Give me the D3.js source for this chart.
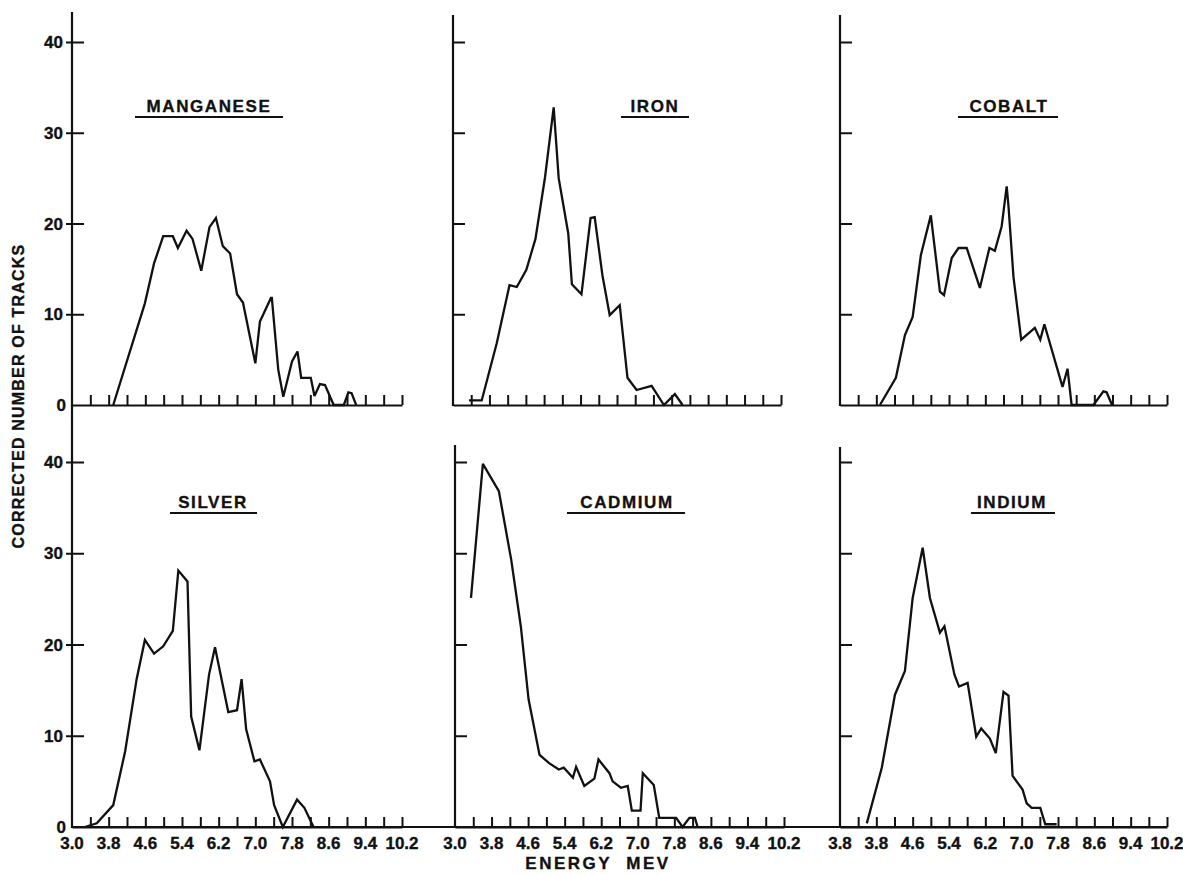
<!DOCTYPE html>
<html><head><meta charset="utf-8">
<script src="https://cdn.jsdelivr.net/npm/d3@7"></script>
<style>
html,body{margin:0;padding:0;background:#fff;}
svg{display:block;}
text{font-family:"Liberation Sans",Arial,sans-serif;font-weight:bold;fill:#111;stroke:#111;stroke-width:0.35px;}
</style></head><body>
<svg id="chart" width="1183" height="875"></svg>
<script>
// ---------- data (energy MeV, corrected number of tracks) ----------
const manganese = [[3.90,0],[4.59,11.2],[4.79,15.6],[4.99,18.6],[5.20,18.6],[5.31,17.3],[5.50,19.2],[5.63,18.3],[5.82,14.8],[6.00,19.6],[6.14,20.6],[6.29,17.5],[6.45,16.7],[6.60,12.2],[6.73,11.3],[7.00,4.6],[7.10,9.2],[7.34,11.8],[7.36,11.8],[7.50,3.9],[7.61,0.9],[7.80,4.8],[7.92,5.9],[8.00,3.0],[8.21,3.0],[8.29,1.0],[8.41,2.3],[8.52,2.2],[8.71,0],[8.93,0],[9.03,1.4],[9.10,1.3],[9.20,0]];
const iron = [[3.35,0.5],[3.63,0.5],[3.96,6.8],[4.24,13.2],[4.40,13.0],[4.61,14.9],[4.81,18.3],[5.02,25.1],[5.21,32.8],[5.32,25.0],[5.53,18.9],[5.61,13.3],[5.82,12.2],[6.02,20.6],[6.11,20.7],[6.28,14.3],[6.44,9.9],[6.66,11.0],[6.83,3.0],[7.03,1.65],[7.36,2.1],[7.63,0],[7.87,1.2],[8.04,0]];
const cobalt = [[3.88,0],[4.23,3.0],[4.43,7.7],[4.60,9.7],[4.78,16.5],[5.00,20.9],[5.20,12.5],[5.29,12.1],[5.46,16.2],[5.61,17.3],[5.79,17.3],[6.08,12.9],[6.29,17.3],[6.41,17.0],[6.56,19.7],[6.67,24.1],[6.71,21.9],[6.82,14.1],[6.99,7.2],[7.29,8.5],[7.41,7.2],[7.50,8.9],[7.90,2.0],[8.01,4.0],[8.10,0],[8.58,0],[8.80,1.5],[8.87,1.4],[8.99,0]];
const silver = [[3.28,0],[3.54,0.4],[3.90,2.4],[4.16,8.3],[4.41,16.2],[4.59,20.5],[4.79,19.0],[4.99,19.8],[5.20,21.5],[5.32,28.1],[5.52,26.9],[5.60,12.1],[5.78,8.4],[5.99,16.7],[6.12,19.7],[6.41,12.6],[6.60,12.8],[6.70,16.2],[6.80,10.7],[6.98,7.2],[7.10,7.4],[7.32,5.0],[7.41,2.4],[7.60,0],[7.91,3.0],[8.07,2.1],[8.27,0]];
const cadmium = [[3.35,25.1],[3.61,39.8],[3.96,36.8],[4.23,29.3],[4.44,22.0],[4.61,14.0],[4.85,7.9],[5.06,7.0],[5.27,6.3],[5.38,6.5],[5.58,5.4],[5.65,6.6],[5.83,4.5],[6.05,5.3],[6.14,7.4],[6.38,5.9],[6.45,5.0],[6.63,4.3],[6.78,4.5],[6.87,1.8],[7.06,1.8],[7.11,5.9],[7.35,4.6],[7.47,1.0],[7.84,1.0],[7.98,0],[8.13,1.0],[8.25,1.0],[8.31,0]];
const indium = [[3.59,0.4],[3.92,6.5],[4.21,14.5],[4.43,17.1],[4.60,25.1],[4.82,30.6],[4.98,25.1],[5.20,21.3],[5.30,22.0],[5.52,16.7],[5.62,15.4],[5.81,15.8],[6.00,9.9],[6.11,10.8],[6.30,9.7],[6.43,8.1],[6.60,14.8],[6.71,14.4],[6.80,5.6],[7.02,4.1],[7.11,2.6],[7.22,2.1],[7.41,2.1],[7.52,0.3],[7.77,0.3]];

const elementNames = ["MANGANESE","IRON","COBALT","SILVER","CADMIUM","INDIUM"];
const xTickValues = [3.4,3.8,4.2,4.6,5.0,5.4,5.8,6.2,6.6,7.0,7.4,7.8,8.2,8.6,9.0,9.4,9.8,10.2];
const xLabelValues = [3.0,3.8,4.6,5.4,6.2,7.0,7.8,8.6,9.4,10.2];
const xLabels = ["3.0","3.8","4.6","5.4","6.2","7.0","7.8","8.6","9.4","10.2"];
const xLabelsIndium = ["3.8","3.8","4.6","5.4","6.2","7.0","7.8","8.6","9.4","10.2"];
const yTickValues = [10,20,30,40];
const yLabelValues = [0,10,20,30,40];
const yLabels = ["0","10","20","30","40"];
const xDomain = [3.0,10.2];
const yDomain = [0,40];

// ---------- layout ----------
const rows = [
  {y0:405, y40:42, titleY:112, ulY:117},
  {y0:827, y40:462, titleY:508, ulY:513}
];
const panels = [
  {data:manganese, name:elementNames[0], row:0, px:[72,402],  axisTop:12,  left:true,  cx:209,  ul:[135,283]},
  {data:iron,      name:elementNames[1], row:0, px:[453,781], axisTop:15,  left:false, cx:655,  ul:[621,689]},
  {data:cobalt,    name:elementNames[2], row:0, px:[840,1167],axisTop:15,  left:false, cx:1009, ul:[958,1058]},
  {data:silver,    name:elementNames[3], row:1, px:[72,402],  axisTop:405, left:true,  cx:213,  ul:[170,257], labels:xLabels},
  {data:cadmium,   name:elementNames[4], row:1, px:[455,784], axisTop:445, left:false, cx:627,  ul:[567,685], labels:xLabels},
  {data:indium,    name:elementNames[5], row:1, px:[840,1167],axisTop:447, left:false, cx:1012, ul:[971,1055], labels:xLabelsIndium}
];
const ink = "#111";

const svg = d3.select("#chart");
svg.append("rect").attr("width",1183).attr("height",875).attr("fill","#fff");

panels.forEach(p => {
  const r = rows[p.row];
  const x = d3.scaleLinear().domain(xDomain).range(p.px);
  const y = d3.scaleLinear().domain(yDomain).range([r.y0, r.y40]);
  const g = svg.append("g");

  // x axis: baseline + upward ticks
  const xa = g.append("g").attr("transform",`translate(0,${r.y0})`)
    .call(d3.axisTop(x).tickValues(xTickValues).tickSize(10).tickSizeOuter(0).tickFormat(""));
  xa.selectAll("path,line").attr("stroke",ink).attr("stroke-width",2);

  // y axis line
  g.append("line").attr("x1",x(xDomain[0])).attr("x2",x(xDomain[0]))
    .attr("y1",p.axisTop).attr("y2",r.y0+1).attr("stroke",ink).attr("stroke-width",2.2);

  // y ticks
  const off = p.left ? 6 : 0;
  const ya = g.append("g").attr("transform",`translate(${x(xDomain[0])-off},0)`)
    .call(d3.axisRight(y).tickValues(yTickValues).tickSize(12+off).tickFormat(""));
  ya.select(".domain").remove();
  ya.selectAll("line").attr("stroke",ink).attr("stroke-width",2);

  if (p.left) {
    g.selectAll(".ylab").data(yLabelValues).enter().append("text")
      .attr("x", (d) => x(xDomain[0]) - (d===0 ? 6 : 9))
      .attr("y", d => y(d)).attr("dy","0.36em")
      .attr("text-anchor","end").attr("font-size",17).text((d,i)=>yLabels[i]);
  }

  if (p.labels) {
    g.selectAll(".xlab").data(xLabelValues).enter().append("text")
      .attr("x", d => x(d)).attr("y", 849)
      .attr("text-anchor","middle").attr("font-size",17).text((d,i)=>p.labels[i]);
  }

  // data line
  g.append("path").datum(p.data)
    .attr("d", d3.line().x(d=>x(d[0])).y(d=>y(d[1])))
    .attr("fill","none").attr("stroke",ink).attr("stroke-width",2.3)
    .attr("stroke-linejoin","miter").attr("stroke-miterlimit",3);

  // title + underline
  g.append("text").attr("x",p.cx).attr("y",r.titleY).attr("text-anchor","middle")
    .attr("font-size",17).attr("letter-spacing","1.6px").text(p.name);
  g.append("line").attr("x1",p.ul[0]).attr("x2",p.ul[1]).attr("y1",r.ulY).attr("y2",r.ulY)
    .attr("stroke",ink).attr("stroke-width",2.2);
});

// continuous bottom baseline across lower row
{
  const xl = d3.scaleLinear().domain(xDomain).range(panels[3].px);
  const xr = d3.scaleLinear().domain(xDomain).range(panels[5].px);
  svg.append("line").attr("x1",xl(xDomain[0])).attr("x2",xr(xDomain[1]))
    .attr("y1",rows[1].y0).attr("y2",rows[1].y0).attr("stroke",ink).attr("stroke-width",2);
}

// axis titles
svg.append("text").attr("transform","translate(24,396) rotate(-90)")
  .attr("text-anchor","middle").attr("font-size",16).attr("letter-spacing","1.2px")
  .text("CORRECTED NUMBER OF TRACKS");
svg.append("text").attr("x",598).attr("y",869).attr("text-anchor","middle")
  .attr("font-size",17).attr("letter-spacing","2.5px").style("white-space","pre")
  .text("ENERGY  MEV");
</script>
</body></html>
